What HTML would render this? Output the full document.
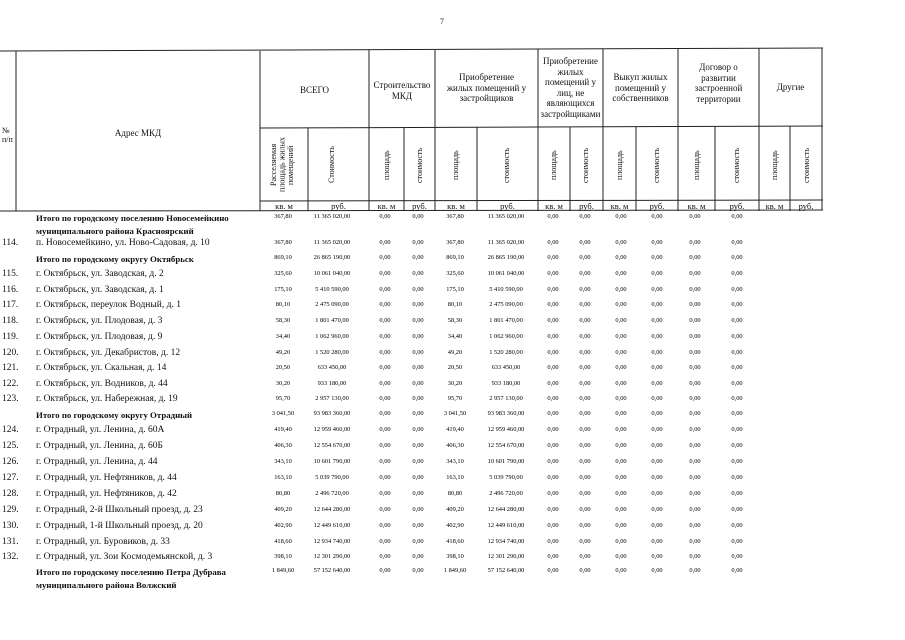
<!DOCTYPE html>
<html><head><meta charset="utf-8"><style>
body{margin:0;width:905px;height:640px;background:#fff;position:relative;overflow:hidden;font-family:"Liberation Serif",serif;color:#111}
.a{position:absolute;white-space:nowrap}
.h{position:absolute;text-align:center;font-size:9px;line-height:10.5px}
.v{position:absolute;writing-mode:vertical-rl;transform:rotate(180deg);font-size:8px;line-height:8.5px;text-align:center}
.u{position:absolute;top:201px;font-size:8.5px;text-align:center}
.r{position:absolute;left:0;width:905px;height:12px;font-size:9.5px}
.r .n{position:absolute;left:2px}
.r .t{position:absolute;left:36px}
.r.b .t{font-weight:bold;font-size:8.8px;line-height:13px}
.r span.d{position:absolute;width:64px;text-align:center;font-size:6.4px;top:1px;color:#000}
.c1{left:251px}.c2{left:300px}.c3{left:353px}.c4{left:386px}.c5{left:423px}.c6{left:474px}.c7{left:521px}.c8{left:553px}.c9{left:589px}.c10{left:625px}.c11{left:663px}.c12{left:705px}
</style></head><body>
<div class="a" style="left:440px;top:17px;font-size:8px">7</div>
<svg width="905" height="640" style="position:absolute;left:0;top:0">
<g stroke="#222" stroke-width="1">
<line x1="0" y1="51" x2="823" y2="48"/>
<line x1="260" y1="128" x2="823" y2="126"/>
<line x1="260" y1="201" x2="823" y2="200"/>
<line x1="0" y1="211" x2="823" y2="210"/>
<line x1="16" y1="51" x2="16" y2="211"/>
<line x1="260" y1="51" x2="260" y2="211"/>
<line x1="369" y1="50" x2="369" y2="211"/>
<line x1="435" y1="50" x2="435" y2="211"/>
<line x1="538" y1="49" x2="538" y2="211"/>
<line x1="603" y1="49" x2="603" y2="211"/>
<line x1="678" y1="48" x2="678" y2="211"/>
<line x1="759" y1="48" x2="759" y2="211"/>
<line x1="822" y1="48" x2="822" y2="210"/>
<line x1="308" y1="128" x2="308" y2="211"/>
<line x1="404" y1="128" x2="404" y2="211"/>
<line x1="477" y1="127" x2="477" y2="211"/>
<line x1="570" y1="127" x2="570" y2="211"/>
<line x1="636" y1="127" x2="636" y2="211"/>
<line x1="715" y1="126" x2="715" y2="211"/>
<line x1="790" y1="126" x2="790" y2="211"/>
</g></svg>
<div class="a" style="left:2px;top:126px;font-size:8px;line-height:9px">№<br>п/п</div>
<div class="h" style="left:16px;width:244px;top:128px">Адрес МКД</div>
<div class="h" style="left:260px;width:109px;top:85px">ВСЕГО</div>
<div class="h" style="left:371px;width:62px;top:80px">Строительство МКД</div>
<div class="h" style="left:445px;width:83px;top:72px">Приобретение жилых помещений у застройщиков</div>
<div class="h" style="left:539px;width:63px;top:56px">Приобретение жилых помещений у лиц, не являющихся застройщиками</div>
<div class="h" style="left:608px;width:65px;top:72px">Выкуп жилых помещений у собственников</div>
<div class="h" style="left:688px;width:61px;top:62px">Договор о развитии застроенной территории</div>
<div class="h" style="left:759px;width:63px;top:82px">Другие</div>
<div class="v" style="left:270px;top:133px;height:64px">Расселяемая площадь жилых помещений</div>
<div class="v" style="left:328px;top:140px;height:50px">Стоимость</div>
<div class="v" style="left:383px;top:140px;height:50px">площадь</div>
<div class="v" style="left:416px;top:140px;height:50px">стоимость</div>
<div class="v" style="left:452px;top:140px;height:50px">площадь</div>
<div class="v" style="left:503px;top:140px;height:50px">стоимость</div>
<div class="v" style="left:550px;top:140px;height:50px">площадь</div>
<div class="v" style="left:582px;top:140px;height:50px">стоимость</div>
<div class="v" style="left:616px;top:140px;height:50px">площадь</div>
<div class="v" style="left:653px;top:140px;height:50px">стоимость</div>
<div class="v" style="left:693px;top:140px;height:50px">площадь</div>
<div class="v" style="left:733px;top:140px;height:50px">стоимость</div>
<div class="v" style="left:771px;top:140px;height:50px">площадь</div>
<div class="v" style="left:803px;top:140px;height:50px">стоимость</div>
<div class="u" style="left:260px;width:48px">кв. м</div><div class="u" style="left:308px;width:61px">руб.</div>
<div class="u" style="left:369px;width:35px">кв. м</div><div class="u" style="left:404px;width:31px">руб.</div>
<div class="u" style="left:435px;width:42px">кв. м</div><div class="u" style="left:477px;width:61px">руб.</div>
<div class="u" style="left:538px;width:32px">кв. м</div><div class="u" style="left:570px;width:33px">руб.</div>
<div class="u" style="left:603px;width:33px">кв. м</div><div class="u" style="left:636px;width:42px">руб.</div>
<div class="u" style="left:678px;width:37px">кв. м</div><div class="u" style="left:715px;width:44px">руб.</div>
<div class="u" style="left:759px;width:31px">кв. м</div><div class="u" style="left:790px;width:32px">руб.</div>

<div class="r b" style="top:212px"><span class="t">Итого по городскому поселению Новосемейкино<br>муниципального района Красноярский</span><span class="d c1">367,80</span><span class="d c2">11 365 020,00</span><span class="d c3">0,00</span><span class="d c4">0,00</span><span class="d c5">367,80</span><span class="d c6">11 365 020,00</span><span class="d c7">0,00</span><span class="d c8">0,00</span><span class="d c9">0,00</span><span class="d c10">0,00</span><span class="d c11">0,00</span><span class="d c12">0,00</span></div>
<div class="r" style="top:238px"><span class="n">114.</span><span class="t">п. Новосемейкино, ул. Ново-Садовая, д. 10</span><span class="d c1">367,80</span><span class="d c2">11 365 020,00</span><span class="d c3">0,00</span><span class="d c4">0,00</span><span class="d c5">367,80</span><span class="d c6">11 365 020,00</span><span class="d c7">0,00</span><span class="d c8">0,00</span><span class="d c9">0,00</span><span class="d c10">0,00</span><span class="d c11">0,00</span><span class="d c12">0,00</span></div>
<div class="r b" style="top:253px"><span class="t">Итого по городскому округу Октябрьск</span><span class="d c1">869,10</span><span class="d c2">26 865 190,00</span><span class="d c3">0,00</span><span class="d c4">0,00</span><span class="d c5">869,10</span><span class="d c6">26 865 190,00</span><span class="d c7">0,00</span><span class="d c8">0,00</span><span class="d c9">0,00</span><span class="d c10">0,00</span><span class="d c11">0,00</span><span class="d c12">0,00</span></div>
<div class="r" style="top:269px"><span class="n">115.</span><span class="t">г. Октябрьск, ул. Заводская, д. 2</span><span class="d c1">325,60</span><span class="d c2">10 061 040,00</span><span class="d c3">0,00</span><span class="d c4">0,00</span><span class="d c5">325,60</span><span class="d c6">10 061 040,00</span><span class="d c7">0,00</span><span class="d c8">0,00</span><span class="d c9">0,00</span><span class="d c10">0,00</span><span class="d c11">0,00</span><span class="d c12">0,00</span></div>
<div class="r" style="top:285px"><span class="n">116.</span><span class="t">г. Октябрьск, ул. Заводская, д. 1</span><span class="d c1">175,10</span><span class="d c2">5 410 590,00</span><span class="d c3">0,00</span><span class="d c4">0,00</span><span class="d c5">175,10</span><span class="d c6">5 410 590,00</span><span class="d c7">0,00</span><span class="d c8">0,00</span><span class="d c9">0,00</span><span class="d c10">0,00</span><span class="d c11">0,00</span><span class="d c12">0,00</span></div>
<div class="r" style="top:300px"><span class="n">117.</span><span class="t">г. Октябрьск, переулок Водный, д. 1</span><span class="d c1">80,10</span><span class="d c2">2 475 090,00</span><span class="d c3">0,00</span><span class="d c4">0,00</span><span class="d c5">80,10</span><span class="d c6">2 475 090,00</span><span class="d c7">0,00</span><span class="d c8">0,00</span><span class="d c9">0,00</span><span class="d c10">0,00</span><span class="d c11">0,00</span><span class="d c12">0,00</span></div>
<div class="r" style="top:316px"><span class="n">118.</span><span class="t">г. Октябрьск, ул. Плодовая, д. 3</span><span class="d c1">58,30</span><span class="d c2">1 801 470,00</span><span class="d c3">0,00</span><span class="d c4">0,00</span><span class="d c5">58,30</span><span class="d c6">1 801 470,00</span><span class="d c7">0,00</span><span class="d c8">0,00</span><span class="d c9">0,00</span><span class="d c10">0,00</span><span class="d c11">0,00</span><span class="d c12">0,00</span></div>
<div class="r" style="top:332px"><span class="n">119.</span><span class="t">г. Октябрьск, ул. Плодовая, д. 9</span><span class="d c1">34,40</span><span class="d c2">1 062 960,00</span><span class="d c3">0,00</span><span class="d c4">0,00</span><span class="d c5">34,40</span><span class="d c6">1 062 960,00</span><span class="d c7">0,00</span><span class="d c8">0,00</span><span class="d c9">0,00</span><span class="d c10">0,00</span><span class="d c11">0,00</span><span class="d c12">0,00</span></div>
<div class="r" style="top:348px"><span class="n">120.</span><span class="t">г. Октябрьск, ул. Декабристов, д. 12</span><span class="d c1">49,20</span><span class="d c2">1 520 280,00</span><span class="d c3">0,00</span><span class="d c4">0,00</span><span class="d c5">49,20</span><span class="d c6">1 520 280,00</span><span class="d c7">0,00</span><span class="d c8">0,00</span><span class="d c9">0,00</span><span class="d c10">0,00</span><span class="d c11">0,00</span><span class="d c12">0,00</span></div>
<div class="r" style="top:363px"><span class="n">121.</span><span class="t">г. Октябрьск, ул. Скальная, д. 14</span><span class="d c1">20,50</span><span class="d c2">633 450,00</span><span class="d c3">0,00</span><span class="d c4">0,00</span><span class="d c5">20,50</span><span class="d c6">633 450,00</span><span class="d c7">0,00</span><span class="d c8">0,00</span><span class="d c9">0,00</span><span class="d c10">0,00</span><span class="d c11">0,00</span><span class="d c12">0,00</span></div>
<div class="r" style="top:379px"><span class="n">122.</span><span class="t">г. Октябрьск, ул. Водников, д. 44</span><span class="d c1">30,20</span><span class="d c2">933 180,00</span><span class="d c3">0,00</span><span class="d c4">0,00</span><span class="d c5">30,20</span><span class="d c6">933 180,00</span><span class="d c7">0,00</span><span class="d c8">0,00</span><span class="d c9">0,00</span><span class="d c10">0,00</span><span class="d c11">0,00</span><span class="d c12">0,00</span></div>
<div class="r" style="top:394px"><span class="n">123.</span><span class="t">г. Октябрьск, ул. Набережная, д. 19</span><span class="d c1">95,70</span><span class="d c2">2 957 130,00</span><span class="d c3">0,00</span><span class="d c4">0,00</span><span class="d c5">95,70</span><span class="d c6">2 957 130,00</span><span class="d c7">0,00</span><span class="d c8">0,00</span><span class="d c9">0,00</span><span class="d c10">0,00</span><span class="d c11">0,00</span><span class="d c12">0,00</span></div>
<div class="r b" style="top:409px"><span class="t">Итого по городскому округу Отрадный</span><span class="d c1">3 041,50</span><span class="d c2">93 983 360,00</span><span class="d c3">0,00</span><span class="d c4">0,00</span><span class="d c5">3 041,50</span><span class="d c6">93 983 360,00</span><span class="d c7">0,00</span><span class="d c8">0,00</span><span class="d c9">0,00</span><span class="d c10">0,00</span><span class="d c11">0,00</span><span class="d c12">0,00</span></div>
<div class="r" style="top:425px"><span class="n">124.</span><span class="t">г. Отрадный, ул. Ленина, д. 60А</span><span class="d c1">419,40</span><span class="d c2">12 959 460,00</span><span class="d c3">0,00</span><span class="d c4">0,00</span><span class="d c5">419,40</span><span class="d c6">12 959 460,00</span><span class="d c7">0,00</span><span class="d c8">0,00</span><span class="d c9">0,00</span><span class="d c10">0,00</span><span class="d c11">0,00</span><span class="d c12">0,00</span></div>
<div class="r" style="top:441px"><span class="n">125.</span><span class="t">г. Отрадный, ул. Ленина, д. 60Б</span><span class="d c1">406,30</span><span class="d c2">12 554 670,00</span><span class="d c3">0,00</span><span class="d c4">0,00</span><span class="d c5">406,30</span><span class="d c6">12 554 670,00</span><span class="d c7">0,00</span><span class="d c8">0,00</span><span class="d c9">0,00</span><span class="d c10">0,00</span><span class="d c11">0,00</span><span class="d c12">0,00</span></div>
<div class="r" style="top:457px"><span class="n">126.</span><span class="t">г. Отрадный, ул. Ленина, д. 44</span><span class="d c1">343,10</span><span class="d c2">10 601 790,00</span><span class="d c3">0,00</span><span class="d c4">0,00</span><span class="d c5">343,10</span><span class="d c6">10 601 790,00</span><span class="d c7">0,00</span><span class="d c8">0,00</span><span class="d c9">0,00</span><span class="d c10">0,00</span><span class="d c11">0,00</span><span class="d c12">0,00</span></div>
<div class="r" style="top:473px"><span class="n">127.</span><span class="t">г. Отрадный, ул. Нефтяников, д. 44</span><span class="d c1">163,10</span><span class="d c2">5 039 790,00</span><span class="d c3">0,00</span><span class="d c4">0,00</span><span class="d c5">163,10</span><span class="d c6">5 039 790,00</span><span class="d c7">0,00</span><span class="d c8">0,00</span><span class="d c9">0,00</span><span class="d c10">0,00</span><span class="d c11">0,00</span><span class="d c12">0,00</span></div>
<div class="r" style="top:489px"><span class="n">128.</span><span class="t">г. Отрадный, ул. Нефтяников, д. 42</span><span class="d c1">80,80</span><span class="d c2">2 496 720,00</span><span class="d c3">0,00</span><span class="d c4">0,00</span><span class="d c5">80,80</span><span class="d c6">2 496 720,00</span><span class="d c7">0,00</span><span class="d c8">0,00</span><span class="d c9">0,00</span><span class="d c10">0,00</span><span class="d c11">0,00</span><span class="d c12">0,00</span></div>
<div class="r" style="top:505px"><span class="n">129.</span><span class="t">г. Отрадный, 2-й Школьный проезд, д. 23</span><span class="d c1">409,20</span><span class="d c2">12 644 280,00</span><span class="d c3">0,00</span><span class="d c4">0,00</span><span class="d c5">409,20</span><span class="d c6">12 644 280,00</span><span class="d c7">0,00</span><span class="d c8">0,00</span><span class="d c9">0,00</span><span class="d c10">0,00</span><span class="d c11">0,00</span><span class="d c12">0,00</span></div>
<div class="r" style="top:521px"><span class="n">130.</span><span class="t">г. Отрадный, 1-й Школьный проезд, д. 20</span><span class="d c1">402,90</span><span class="d c2">12 449 610,00</span><span class="d c3">0,00</span><span class="d c4">0,00</span><span class="d c5">402,90</span><span class="d c6">12 449 610,00</span><span class="d c7">0,00</span><span class="d c8">0,00</span><span class="d c9">0,00</span><span class="d c10">0,00</span><span class="d c11">0,00</span><span class="d c12">0,00</span></div>
<div class="r" style="top:537px"><span class="n">131.</span><span class="t">г. Отрадный, ул. Буровиков, д. 33</span><span class="d c1">418,60</span><span class="d c2">12 934 740,00</span><span class="d c3">0,00</span><span class="d c4">0,00</span><span class="d c5">418,60</span><span class="d c6">12 934 740,00</span><span class="d c7">0,00</span><span class="d c8">0,00</span><span class="d c9">0,00</span><span class="d c10">0,00</span><span class="d c11">0,00</span><span class="d c12">0,00</span></div>
<div class="r" style="top:552px"><span class="n">132.</span><span class="t">г. Отрадный, ул. Зои Космодемьянской, д. 3</span><span class="d c1">398,10</span><span class="d c2">12 301 290,00</span><span class="d c3">0,00</span><span class="d c4">0,00</span><span class="d c5">398,10</span><span class="d c6">12 301 290,00</span><span class="d c7">0,00</span><span class="d c8">0,00</span><span class="d c9">0,00</span><span class="d c10">0,00</span><span class="d c11">0,00</span><span class="d c12">0,00</span></div>
<div class="r b" style="top:566px"><span class="t">Итого по городскому поселению Петра Дубрава<br>муниципального района Волжский</span><span class="d c1">1 849,60</span><span class="d c2">57 152 640,00</span><span class="d c3">0,00</span><span class="d c4">0,00</span><span class="d c5">1 849,60</span><span class="d c6">57 152 640,00</span><span class="d c7">0,00</span><span class="d c8">0,00</span><span class="d c9">0,00</span><span class="d c10">0,00</span><span class="d c11">0,00</span><span class="d c12">0,00</span></div>
</body></html>
